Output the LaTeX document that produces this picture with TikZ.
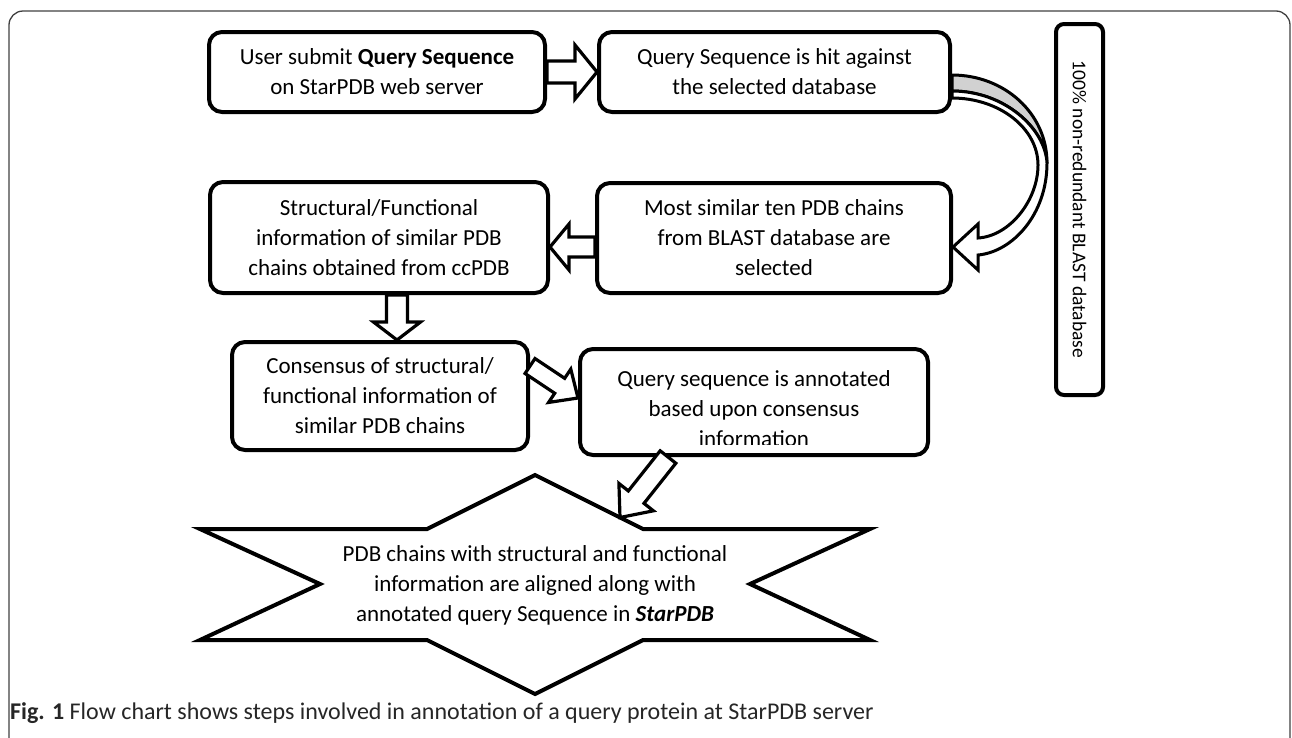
\documentclass[tikz,border=0pt]{standalone}
\usepackage{fontspec}
\setmainfont{Carlito}
\usetikzlibrary{calc}
\tikzset{
  box/.style={draw=black, line width=4pt, rounded corners=13pt, fill=white, align=center, inner sep=0pt, font=\fontsize{23}{30}\selectfont},
  vbox/.style={draw=black, line width=4pt, rounded corners=8pt, fill=white, inner sep=0pt},
  barrow/.style={draw=black, line width=3.2pt, fill=white, line join=miter},
  curv/.style={draw=black, line width=3pt, line join=miter},
  starline/.style={draw=black, line width=4pt, fill=white, line join=miter},
  txt/.style={align=center, inner sep=0pt, font=\fontsize{23}{30}\selectfont},
  frame/.style={draw=black!75, line width=1.3pt, rounded corners=14pt},
  captxt/.style={anchor=west, inner sep=0pt, font=\fontsize{24}{28}\selectfont, text=black!85}
}
\newcommand{\blockarr}[5]{%
  \coordinate (bab) at ($(#2)!#5!(#1)$);
  \draw[barrow] ($(#1)!#3!90:(#2)$) -- ($(bab)!#3!90:(#2)$) -- ($(bab)!#4!90:(#2)$) -- (#2) -- ($(bab)!#4!-90:(#2)$) -- ($(bab)!#3!-90:(#2)$) -- ($(#1)!#3!-90:(#2)$) -- cycle;}
\begin{document}
\begin{tikzpicture}[x=1pt, y=-1pt]
\useasboundingbox (0,0) rectangle (1292,737);
% outer frame
\draw[frame] (9,760) -- (9,11) -- (1290,11) -- (1290,760);

% boxes
\node[box, minimum width=336pt, minimum height=80pt] (b1) at (377,72) {User submit \textbf{Query Sequence}\\on StarPDB web server};
\node[box, minimum width=351pt, minimum height=80pt] (b2) at (774.5,72) {Query Sequence is hit against\\the selected database};
\node[box, minimum width=354pt, minimum height=110pt] (b3) at (774,238) {Most similar ten PDB chains\\from BLAST database are\\selected};
\node[box, minimum width=338pt, minimum height=111pt] (b4) at (379,237.5) {Structural/Functional\\information of similar PDB\\chains obtained from ccPDB};
\node[box, minimum width=296pt, minimum height=108pt] (b5) at (380,396) {Consensus of structural/\\functional information of\\similar PDB chains};
\node[box, minimum width=348pt, minimum height=106pt] (b6) at (754,402) {};
\begin{scope}
  \clip (582,351) rectangle (926,444);
  \node[txt] (b6t) at (754,409) {Query sequence is annotated\\based upon consensus\\information};
\end{scope}

% vertical database box
\node[vbox, minimum width=47pt, minimum height=371pt] (db) at (1079.5,209.5) {};
\node[inner sep=0pt, rotate=-90, font=\fontsize{19.5}{22}\selectfont] (dbt) at (db.center) {100\% non-redundant BLAST database};

% star
\coordinate (s1) at (200,529);
\coordinate (s2) at (320,584);
\coordinate (s3) at (200,640);
\coordinate (s4) at (427,640);
\coordinate (s5) at (535,694);
\coordinate (s6) at (643,640);
\coordinate (s7) at (870,640);
\coordinate (s8) at (750,584);
\coordinate (s9) at (870,529);
\coordinate (s10) at (643,529);
\coordinate (s11) at (535,475);
\coordinate (s12) at (427,529);
\draw[starline] (s1) -- (s2) -- (s3) -- (s4) -- (s5) -- (s6) -- (s7) -- (s8) -- (s9) -- (s10) -- (s11) -- (s12) -- cycle;
\node[txt] (st) at (535,585) {PDB chains with structural and functional\\information are aligned along with\\annotated query Sequence in \textbf{\textit{StarPDB}}};

% block arrows
\blockarr{b1.east}{b2.west}{11pt}{27pt}{22pt}
\coordinate (a2s) at ($(b3.west)+(0,9)$);
\coordinate (a2t) at (a2s -| b4.east);
\blockarr{a2s}{a2t}{10pt}{23pt}{19pt}
\coordinate (a3s) at ($(b4.south)+(18,0)$);
\coordinate (a3t) at (a3s |- b5.north);
\blockarr{a3s}{a3t}{10.5pt}{23.5pt}{18pt}
\coordinate (a4s) at ($(b5.east)+(0,-30)$);
\coordinate (a4t) at ($(b6.west)+(0,-4)$);
\blockarr{a4s}{a4t}{9pt}{20pt}{22pt}
\coordinate (a5s) at ($(b6.south)+(-86,0)$);
\coordinate (a5t) at ($(s11)!0.787!(s10)$);
\blockarr{a5s}{a5t}{10pt}{22pt}{26pt}

% curved arrow from b2 to b3
\coordinate (c1) at ($(b2.east)+(0,3)$);
\coordinate (c3) at ($(b2.east)+(0,19)$);
\coordinate (ci) at ($(b2.east)+(0,26)$);
\coordinate (c2) at (1047,163);
\coordinate (ri) at (1038,165);
\coordinate (ctip) at ($(b3.east)+(0,9)$);
\coordinate (ho) at ($(ctip)+(25,8)$);
\coordinate (hl) at ($(ctip)+(25,23)$);
\coordinate (hu) at ($(ctip)+(25,-23)$);
\coordinate (hi) at ($(ctip)+(25,-9)$);
\draw[curv, fill=black!18] (c1) .. controls (1004,75) and (1047,113) .. (c2) .. controls (1045,128) and (1004,91) .. (c3) -- cycle;
\draw[curv, fill=white] (c3) .. controls (1004,91) and (1045,128) .. (c2) .. controls (1047,215) and (1012,252) .. (ho) -- (hl) -- (ctip) -- (hu) -- (hi) .. controls (1010,236) and (1038,200) .. (ri) .. controls (1038,128) and (999,98) .. (ci) -- cycle;

% caption
\node[captxt] (cap) at (10,713) {\textbf{Fig. 1} Flow chart shows steps involved in annotation of a query protein at StarPDB server};
\end{tikzpicture}
\end{document}
